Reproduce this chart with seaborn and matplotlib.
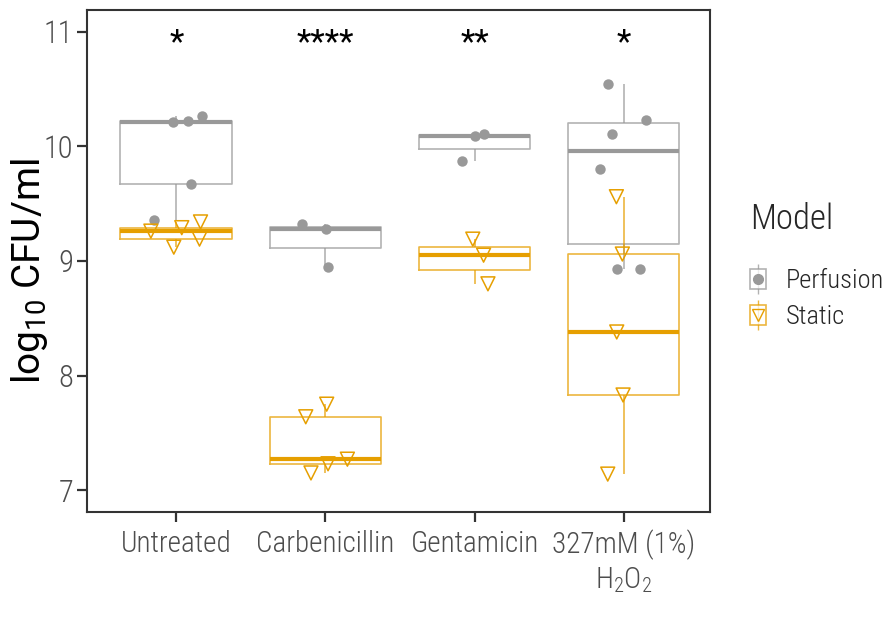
import numpy as np
import pandas as pd
import matplotlib

matplotlib.use("Agg")
import matplotlib.pyplot as plt
import seaborn as sns
from matplotlib.lines import Line2D
from matplotlib.patches import Patch
from matplotlib.legend_handler import HandlerTuple

treatments = ["Untreated", "Carbenicillin", "Gentamicin", "H2O2"]
tick_labels = ["Untreated", "Carbenicillin", "Gentamicin", "327mM (1%)\n$\\mathregular{H_2O_2}$"]
models = ["Perfusion", "Static"]
significance = ["*", "****", "**", "*"]

# log10 CFU/ml per treatment
perf_untreated = [9.36, 9.67, 10.21, 10.22, 10.26]
perf_carbenicillin = [8.95, 9.28, 9.32]
perf_gentamicin = [9.87, 10.09, 10.11]
perf_h2o2 = [8.93, 8.93, 9.80, 10.11, 10.23, 10.54]
static_untreated = [9.12, 9.19, 9.26, 9.29, 9.34]
static_carbenicillin = [7.15, 7.23, 7.27, 7.64, 7.75]
static_gentamicin = [8.80, 9.05, 9.19]
static_h2o2 = [7.14, 7.83, 8.38, 9.06, 9.56]

grey = "#999999"
orange = "#E69F00"
palette = {"Perfusion": grey, "Static": orange}
narrow = ["Roboto Condensed", "DejaVu Sans"]

rows = []
groups = [
    ("Perfusion", [perf_untreated, perf_carbenicillin, perf_gentamicin, perf_h2o2]),
    ("Static", [static_untreated, static_carbenicillin, static_gentamicin, static_h2o2]),
]
for model, series in groups:
    for treatment, values in zip(treatments, series):
        for v in values:
            rows.append({"treatment": treatment, "model": model, "cfu": v})
df = pd.DataFrame(rows)

sns.set_style("ticks")
plt.rcParams["font.family"] = narrow
plt.rcParams["font.weight"] = "light"

fig, ax = plt.subplots(figsize=(8.87, 6.19), dpi=100)
fig.subplots_adjust(left=0.098, right=0.8005, bottom=0.173, top=0.984)

sns.boxplot(
    data=df, x="treatment", y="cfu", hue="model", order=treatments, hue_order=models,
    palette=palette, dodge=False, fill=False, width=0.75, showcaps=False, showfliers=False,
    linewidth=1.2, boxprops=dict(alpha=0.75), whiskerprops=dict(alpha=0.75),
    medianprops=dict(linewidth=3, alpha=1), legend=False, ax=ax,
)

np.random.seed(7)
sns.stripplot(
    data=df[df["model"] == "Perfusion"], x="treatment", y="cfu", order=treatments,
    color=grey, marker="o", size=7.5, jitter=0.18, linewidth=0, ax=ax,
)
n_before = len(ax.collections)
sns.stripplot(
    data=df[df["model"] == "Static"], x="treatment", y="cfu", order=treatments,
    color=orange, marker="v", size=10, jitter=0.18, linewidth=1.1, edgecolor=orange, ax=ax,
)
for coll in ax.collections[n_before:]:
    coll.set_facecolor("none")
    coll.set_edgecolor(orange)

for i, label in enumerate(significance):
    ax.text(i, 10.82, label, ha="center", va="baseline", fontsize=24, color="black", fontweight="normal")

ax.set_xlim(-0.6, 3.58)
ax.set_ylim(6.81, 11.19)
ax.set_yticks([7, 8, 9, 10, 11])
ax.set_xticks(range(len(treatments)))
ax.set_xticklabels(tick_labels, fontsize=21, color="#4D4D4D")
ax.tick_params(axis="y", labelsize=22, labelcolor="#4D4D4D", length=7, width=1.6, color="#333333", pad=3)
ax.tick_params(axis="x", length=7, width=1.6, color="#333333", pad=6)
for spine in ax.spines.values():
    spine.set_visible(True)
    spine.set_color("#333333")
    spine.set_linewidth(1.5)
ax.set_xlabel("")
ax.set_ylabel("log$\\mathregular{_{10}}$ CFU/ml", fontsize=28, family=["Roboto", "DejaVu Sans"],
              fontweight="normal", color="black")
ax.yaxis.set_label_coords(-0.06, 0.48)

handles = [
    (Line2D([], [], color=grey, marker="|", markersize=22, linestyle="none", alpha=0.75),
     Patch(facecolor="white", edgecolor=grey, alpha=0.75, linewidth=1.2),
     Line2D([], [], color=grey, marker="o", markersize=7, linestyle="none")),
    (Line2D([], [], color=orange, marker="|", markersize=22, linestyle="none", alpha=0.75),
     Patch(facecolor="white", edgecolor=orange, alpha=0.75, linewidth=1.2),
     Line2D([], [], color=orange, marker="v", markersize=8, markerfacecolor="none", linestyle="none")),
]
leg = fig.legend(
    handles, models, title="Model", loc="upper left", bbox_to_anchor=(0.846, 0.673),
    frameon=False, prop={"family": narrow, "size": 19, "weight": "light"},
    title_fontproperties={"family": narrow, "size": 25, "weight": "light"},
    handler_map={tuple: HandlerTuple(ndivide=1)}, handlelength=0.6, handleheight=0.75,
    handletextpad=0.75, labelspacing=0.45, alignment="left", borderpad=0, borderaxespad=0,
)
leg._legend_box.sep = 24

fig.savefig("out.png", dpi=100)
plt.close(fig)
